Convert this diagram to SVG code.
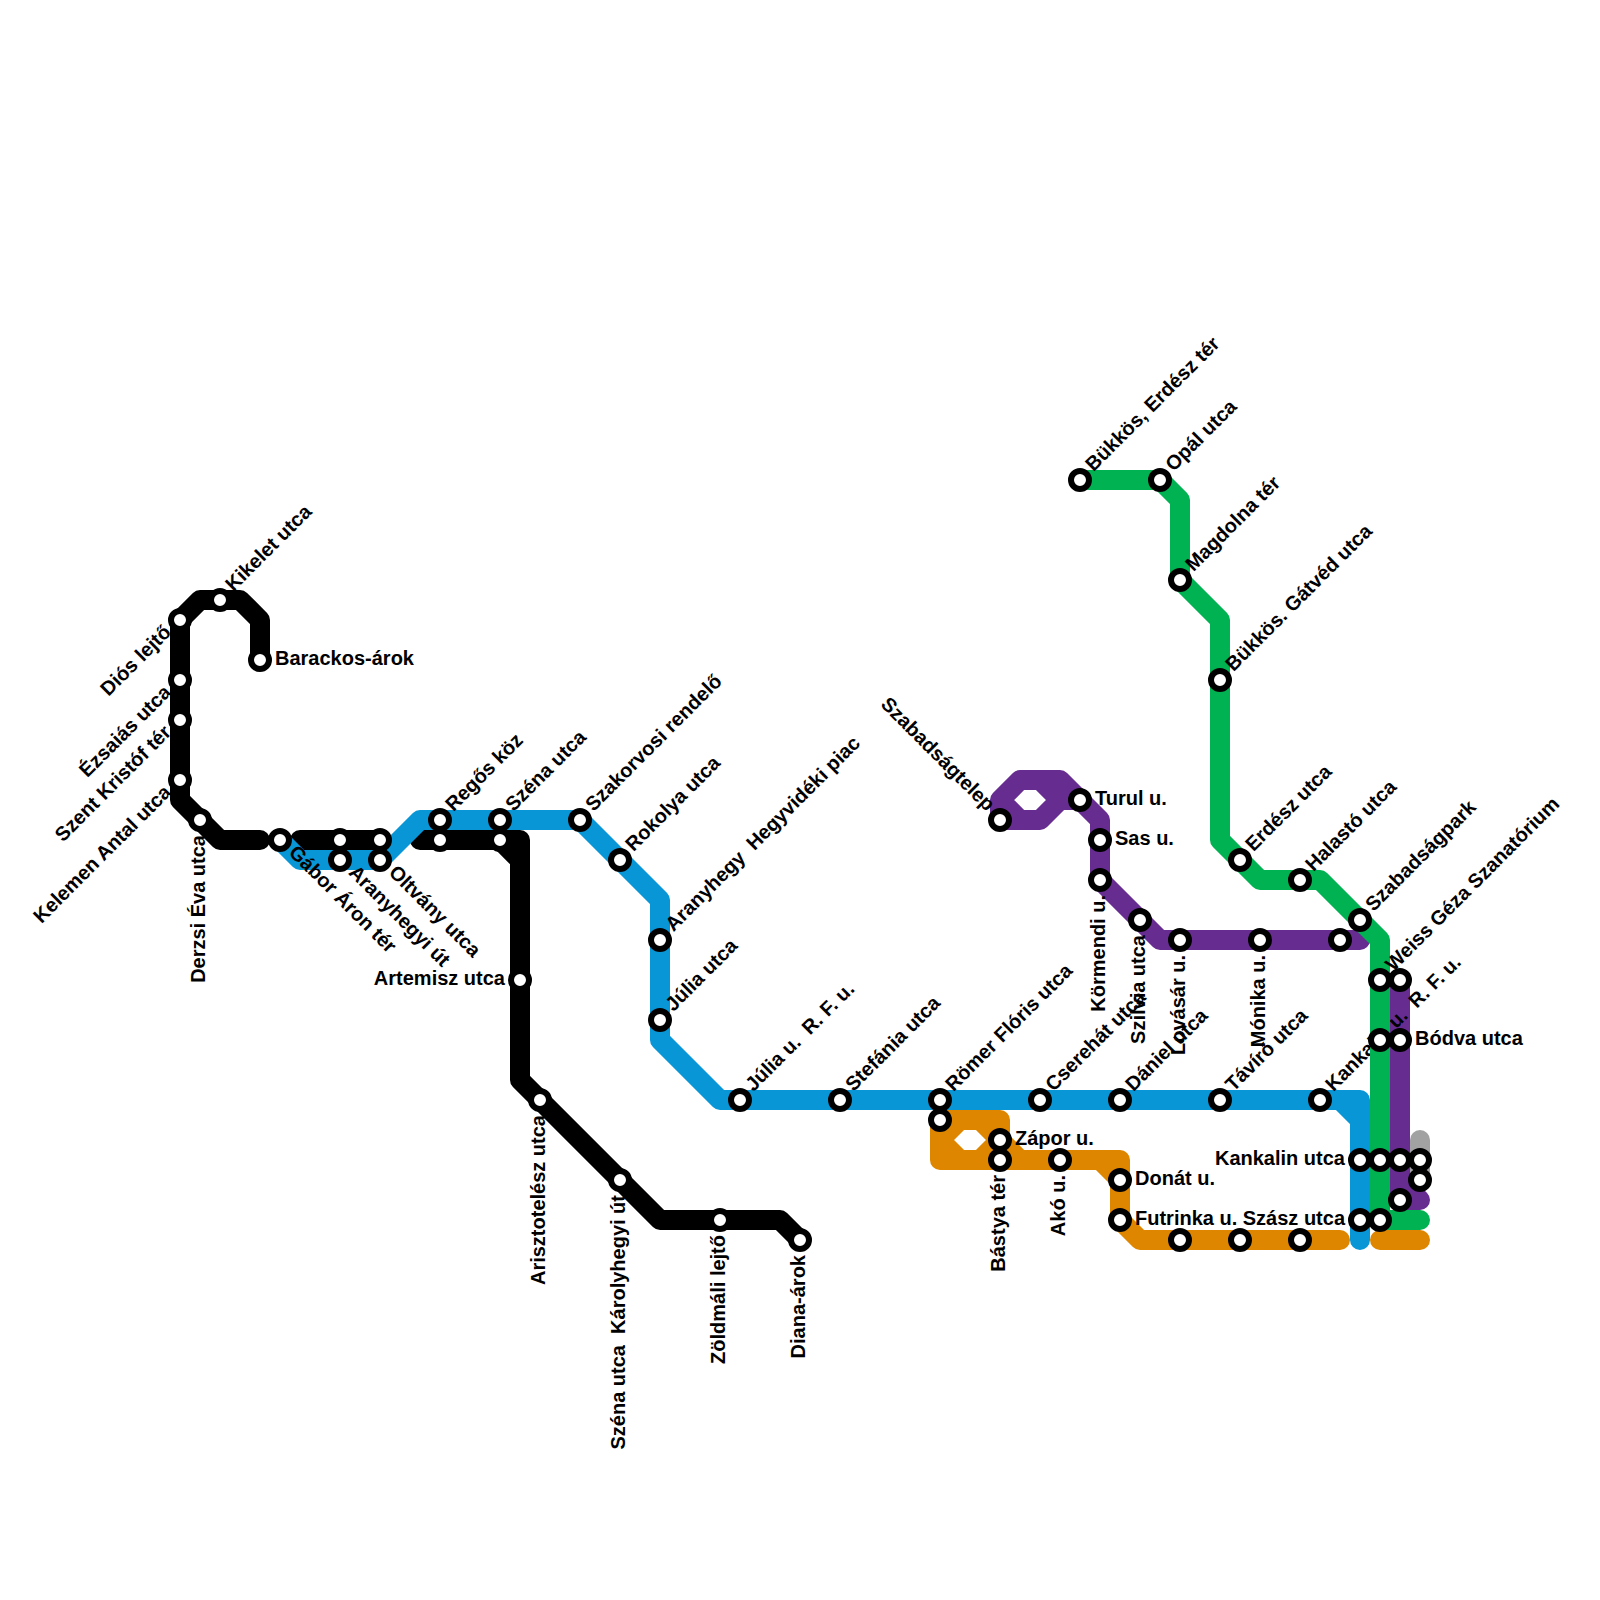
<svg xmlns="http://www.w3.org/2000/svg" width="1600" height="1600" viewBox="0 0 1600 1600">
<style>
.l{fill:none;stroke-width:20;stroke-linecap:round;stroke-linejoin:round}
.k{stroke:#000}.b{stroke:#0896d7}.g{stroke:#00b251}.p{stroke:#662c90}.o{stroke:#df8600}.y{stroke:#a2a2a2}
circle{fill:#fff;stroke:#000;stroke-width:6}
text{font-family:"Liberation Sans",Arial,sans-serif;font-weight:700;font-size:20px;fill:#000;white-space:pre}
.e{text-anchor:end}
</style>
<rect width="1600" height="1600" fill="#fff"/>
<g id="connectors">
<path class="l y" d="M1420 1140V1180"/>
<path class="l p" d="M1000 820V800L1020 780H1060L1100 820V880L1160 940H1360M1040 780L1060 800L1040 820H1000M1000 800L1020 820M1060 800H1080M1400 980V1200H1420M1400 1180L1420 1200"/>
<path class="l o" d="M940 1120V1160H1120M940 1120H1000V1140L1020 1160M940 1140L960 1120M940 1140L960 1160M980 1120L1000 1140L980 1160M1120 1160V1220L1140 1240H1340M1100 1160L1120 1180M1380 1240H1420"/>
<path class="l k" d="M260 660V620L240 600H200L180 620V800L220 840H260M300 840H380M420 840H520V1080L660 1220H780L800 1240M500 840L520 860"/>
<path class="l b" d="M280 840L300 860H380L420 820H580L660 900V1040L720 1100H1360V1240M1340 1100L1360 1120"/>
</g>
<g id="nodes">
<g id="n-barackos"><circle cx="260" cy="660" r="9"/><text transform="translate(260 660)" x="15" y="5">Barackos-árok</text></g>
<g id="n-kikelet"><circle cx="220" cy="600" r="9"/><text transform="translate(220 600) rotate(-45)" x="15" y="4">Kikelet utca</text></g>
<g id="n-dios"><circle cx="180" cy="620" r="9"/><text class="e" transform="translate(180 620) rotate(-45)" x="-15" y="4">Diós lejtő</text></g>
<g id="n-ezsaias"><circle cx="180" cy="680" r="9"/><text class="e" transform="translate(180 680) rotate(-45)" x="-15" y="4">Ézsaiás utca</text></g>
<g id="n-kristof"><circle cx="180" cy="720" r="9"/><text class="e" transform="translate(180 720) rotate(-45)" x="-15" y="4">Szent Kristóf tér</text></g>
<g id="n-kelemen"><circle cx="180" cy="780" r="9"/><text class="e" transform="translate(180 780) rotate(-45)" x="-15" y="4">Kelemen Antal utca</text></g>
<g id="n-derzsi"><circle cx="200" cy="820" r="9"/><text class="e" transform="translate(200 820) rotate(-90)" x="-15" y="4.5">Derzsi Éva utca</text></g>
<g id="n-gabor"><circle cx="280" cy="840" r="9"/><text transform="translate(280 840) rotate(45)" x="15" y="4">Gábor Áron tér</text></g>
<g id="n-k340"><circle cx="340" cy="840" r="9"/></g>
<g id="n-k380"><circle cx="380" cy="840" r="9"/></g>
<g id="n-aranyhegyi"><circle cx="340" cy="860" r="9"/><text transform="translate(340 860) rotate(45)" x="15" y="4">Aranyhegyi út</text></g>
<g id="n-oltvany"><circle cx="380" cy="860" r="9"/><text transform="translate(380 860) rotate(45)" x="15" y="4">Oltvány utca</text></g>
<g id="n-k440"><circle cx="440" cy="840" r="9"/></g>
<g id="n-k500"><circle cx="500" cy="840" r="9"/></g>
<g id="n-regos"><circle cx="440" cy="820" r="9"/><text transform="translate(440 820) rotate(-45)" x="15" y="4">Regős köz</text></g>
<g id="n-szena"><circle cx="500" cy="820" r="9"/><text transform="translate(500 820) rotate(-45)" x="15" y="4">Széna utca</text></g>
<g id="n-artemisz"><circle cx="520" cy="980" r="9"/><text class="e" transform="translate(520 980)" x="-15" y="5">Artemisz utca</text></g>
<g id="n-arisztoteles"><circle cx="540" cy="1100" r="9"/><text class="e" transform="translate(540 1100) rotate(-90)" x="-15" y="4.5">Arisztotelész utca</text></g>
<g id="n-karolyhegyi"><circle cx="620" cy="1180" r="9"/><text class="e" transform="translate(620 1180) rotate(-90)" x="-15" y="4.5">Széna utca  Károlyhegyi út</text></g>
<g id="n-zoldmali"><circle cx="720" cy="1220" r="9"/><text class="e" transform="translate(720 1220) rotate(-90)" x="-15" y="4.5">Zöldmáli lejtő</text></g>
<g id="n-diana"><circle cx="800" cy="1240" r="9"/><text class="e" transform="translate(800 1240) rotate(-90)" x="-15" y="4.5">Diana-árok</text></g>
<g id="n-szakorvosi"><circle cx="580" cy="820" r="9"/><text transform="translate(580 820) rotate(-45)" x="15" y="4">Szakorvosi rendelő</text></g>
<g id="n-rokolya"><circle cx="620" cy="860" r="9"/><text transform="translate(620 860) rotate(-45)" x="15" y="4">Rokolya utca</text></g>
<g id="n-aranyhegy"><circle cx="660" cy="940" r="9"/><text transform="translate(660 940) rotate(-45)" x="15" y="4">Aranyhegy  Hegyvidéki piac</text></g>
<g id="n-julia"><circle cx="660" cy="1020" r="9"/><text transform="translate(660 1020) rotate(-45)" x="15" y="4">Júlia utca</text></g>
<g id="n-julia-rf"><circle cx="740" cy="1100" r="9"/><text transform="translate(740 1100) rotate(-45)" x="15" y="4">Júlia u.  R. F. u.</text></g>
<g id="n-stefania"><circle cx="840" cy="1100" r="9"/><text transform="translate(840 1100) rotate(-45)" x="15" y="4">Stefánia utca</text></g>
<g id="n-romer"><circle cx="940" cy="1100" r="9"/><text transform="translate(940 1100) rotate(-45)" x="15" y="4">Römer Flóris utca</text></g>
<g id="n-cserehat"><circle cx="1040" cy="1100" r="9"/><text transform="translate(1040 1100) rotate(-45)" x="15" y="4">Cserehát utca</text></g>
<g id="n-daniel"><circle cx="1120" cy="1100" r="9"/><text transform="translate(1120 1100) rotate(-45)" x="15" y="4">Dániel utca</text></g>
<g id="n-taviro"><circle cx="1220" cy="1100" r="9"/><text transform="translate(1220 1100) rotate(-45)" x="15" y="4">Távíró utca</text></g>
<g id="n-kankalin-rf"><circle cx="1320" cy="1100" r="9"/><text transform="translate(1320 1100) rotate(-45)" x="15" y="4">Kankalin u.  R. F. u.</text></g>
<g id="n-o940"><circle cx="940" cy="1120" r="9"/></g>
<g id="n-zapor"><circle cx="1000" cy="1140" r="9"/><text transform="translate(1000 1140)" x="15" y="5">Zápor u.</text></g>
<g id="n-bastya"><circle cx="1000" cy="1160" r="9"/><text class="e" transform="translate(1000 1160) rotate(-90)" x="-15" y="4.5">Bástya tér</text></g>
<g id="n-ako"><circle cx="1060" cy="1160" r="9"/><text class="e" transform="translate(1060 1160) rotate(-90)" x="-15" y="4.5">Akó u.</text></g>
<g id="n-donat"><circle cx="1120" cy="1180" r="9"/><text transform="translate(1120 1180)" x="15" y="5">Donát u.</text></g>
<g id="n-futrinka"><circle cx="1120" cy="1220" r="9"/><text transform="translate(1120 1220)" x="15" y="5">Futrinka u.</text></g>
<g id="n-o1180"><circle cx="1180" cy="1240" r="9"/></g>
<g id="n-o1240"><circle cx="1240" cy="1240" r="9"/></g>
<g id="n-o1300"><circle cx="1300" cy="1240" r="9"/></g>
<g id="n-szabadsagtelep"><circle cx="1000" cy="820" r="9"/><text class="e" transform="translate(1000 820) rotate(45)" x="-15" y="4">Szabadságtelep</text></g>
<g id="n-turul"><circle cx="1080" cy="800" r="9"/><text transform="translate(1080 800)" x="15" y="5">Turul u.</text></g>
<g id="n-sas"><circle cx="1100" cy="840" r="9"/><text transform="translate(1100 840)" x="15" y="5">Sas u.</text></g>
<g id="n-kormendi"><circle cx="1100" cy="880" r="9"/><text class="e" transform="translate(1100 880) rotate(-90)" x="-15" y="4.5">Körmendi u.</text></g>
<g id="n-szilvia"><circle cx="1140" cy="920" r="9"/><text class="e" transform="translate(1140 920) rotate(-90)" x="-15" y="4.5">Szilvia utca</text></g>
<g id="n-lovasar"><circle cx="1180" cy="940" r="9"/><text class="e" transform="translate(1180 940) rotate(-90)" x="-15" y="4.5">Lovásár u.</text></g>
<g id="n-monika"><circle cx="1260" cy="940" r="9"/><text class="e" transform="translate(1260 940) rotate(-90)" x="-15" y="4.5">Mónika u.</text></g>
<g id="n-p1340"><circle cx="1340" cy="940" r="9"/></g>
<g id="n-kankalin"><circle cx="1360" cy="1160" r="9"/><text class="e" transform="translate(1360 1160)" x="-15" y="5">Kankalin utca</text></g>
<g id="n-szasz"><circle cx="1360" cy="1220" r="9"/><text class="e" transform="translate(1360 1220)" x="-15" y="5">Szász utca</text></g>
</g>
<g id="connectors-top">
<path class="l g" d="M1080 480H1160L1180 500V580L1220 620V840L1260 880H1320L1380 940V1220H1420"/>
</g>
<g id="nodes-top">
<g id="n-erdesz-ter"><circle cx="1080" cy="480" r="9"/><text transform="translate(1080 480) rotate(-45)" x="15" y="4">Bükkös, Erdész tér</text></g>
<g id="n-opal"><circle cx="1160" cy="480" r="9"/><text transform="translate(1160 480) rotate(-45)" x="15" y="4">Opál utca</text></g>
<g id="n-magdolna"><circle cx="1180" cy="580" r="9"/><text transform="translate(1180 580) rotate(-45)" x="15" y="4">Magdolna tér</text></g>
<g id="n-gatved"><circle cx="1220" cy="680" r="9"/><text transform="translate(1220 680) rotate(-45)" x="15" y="4">Bükkös. Gátvéd utca</text></g>
<g id="n-erdesz"><circle cx="1240" cy="860" r="9"/><text transform="translate(1240 860) rotate(-45)" x="15" y="4">Erdész utca</text></g>
<g id="n-halasto"><circle cx="1300" cy="880" r="9"/><text transform="translate(1300 880) rotate(-45)" x="15" y="4">Halastó utca</text></g>
<g id="n-szabadsagpark"><circle cx="1360" cy="920" r="9"/><text transform="translate(1360 920) rotate(-45)" x="15" y="4">Szabadságpark</text></g>
<g id="n-weiss"><circle cx="1380" cy="980" r="9"/><text transform="translate(1380 980) rotate(-45)" x="15" y="4">Weiss Géza Szanatórium</text></g>
<g id="n-p1400a"><circle cx="1400" cy="980" r="9"/></g>
<g id="n-g1040"><circle cx="1380" cy="1040" r="9"/></g>
<g id="n-bodva"><circle cx="1400" cy="1040" r="9"/><text transform="translate(1400 1040)" x="15" y="5">Bódva utca</text></g>
<g id="n-g1160"><circle cx="1380" cy="1160" r="9"/></g>
<g id="n-p1160"><circle cx="1400" cy="1160" r="9"/></g>
<g id="n-y1160"><circle cx="1420" cy="1160" r="9"/></g>
<g id="n-y1180"><circle cx="1420" cy="1180" r="9"/></g>
<g id="n-p1200"><circle cx="1400" cy="1200" r="9"/></g>
<g id="n-g1220"><circle cx="1380" cy="1220" r="9"/></g>
</g>
</svg>
